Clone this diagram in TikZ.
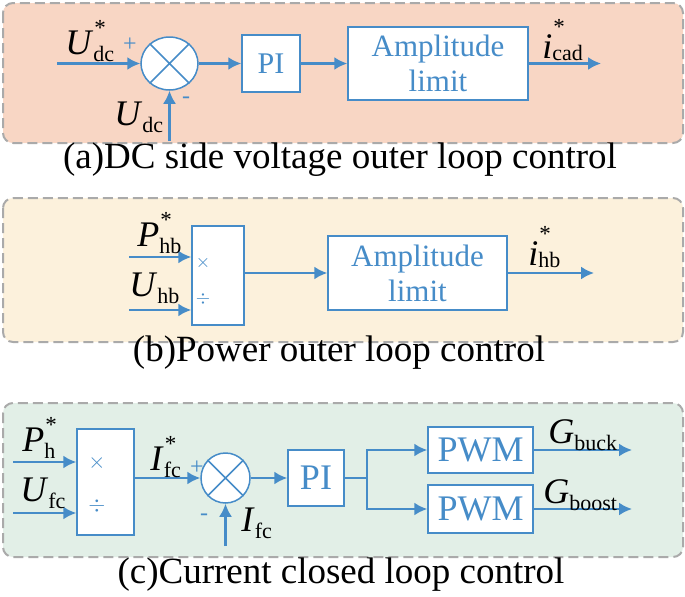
\documentclass[tikz,border=0pt]{standalone}
\usepackage{fontspec}
\setmainfont{Liberation Serif}
\usepackage{xcolor}
\usepackage{tikz}
\usetikzlibrary{positioning,arrows.meta,shapes.geometric,calc}

\definecolor{sigblue}{RGB}{70,140,200}
\definecolor{peachbg}{RGB}{248,214,196}
\definecolor{creambg}{RGB}{252,241,220}
\definecolor{mintbg}{RGB}{226,239,231}
\definecolor{framegray}{RGB}{170,170,170}

% signal labels: italic letter, upright subscript, optional star
\newcommand{\subsz}{\fontsize{11}{11}\selectfont}
\newcommand{\sgnl}[3][3.5pt]{\textit{#2}\raisebox{-#1}{\subsz #3}}
\newcommand{\sgnls}[3][3.5pt]{\textit{#2}\rlap{\raisebox{\dimexpr 12.8pt-#1\relax}{\fontsize{11.5}{11.5}\selectfont\kern0.5pt *}}\raisebox{-#1}{\subsz #3}}

\begin{document}
\begin{tikzpicture}[x=0.5pt, y=-0.5pt,
  blk/.style={draw=sigblue, fill=white, line width=0.75pt, text=sigblue, inner sep=0pt, align=center},
  sum/.style={ellipse, draw=sigblue, fill=white, line width=0.75pt, inner sep=0pt},
  flow/.style={draw=sigblue, line width=1.1pt, -{Latex[length=6.5pt,width=6.5pt]}},
  wire/.style={draw=sigblue, line width=1.1pt},
  panel/.style={draw=framegray, line width=1pt, dash pattern=on 5pt off 2.5pt, rounded corners=5pt},
  sgn/.style={text=sigblue, inner sep=0pt, font=\fontsize{12}{12}\selectfont},
  opsym/.style={text=sigblue, inner sep=0pt, font=\fontsize{9}{9}\selectfont},
  lbl/.style={anchor=base west, inner sep=0pt, font=\fontsize{18}{18}\selectfont},
  captxt/.style={inner sep=0pt, font=\fontsize{18.5}{20}\selectfont}]

\useasboundingbox (0,0) rectangle (685,596);

% (a) DC side voltage outer loop
\draw[panel, fill=peachbg] (3,3) rectangle (683,143);
\node[sum, minimum width=28.5pt, minimum height=26.5pt] (sa) at (169.5,63.5) {};
\draw[sigblue, line width=0.75pt] (sa.45) -- (sa.225) (sa.135) -- (sa.315);
\node[blk, minimum width=29pt, minimum height=28.5pt, font=\fontsize{15}{15}\selectfont] (pia) at (271,63.5) {PI};
\node[blk, minimum width=90pt, minimum height=36.5pt, font=\fontsize{15.5}{17.5}\selectfont] (ampa) at (438,63.5) {Amplitude\\limit};
\coordinate (udcref) at (57,63.5);
\coordinate (udcfb) at (169.5,141);
\coordinate (icad) at (601,63.5);
\draw[flow] (udcref) -- (sa);
\draw[flow] (udcfb) -- (sa);
\draw[flow] (sa) -- (pia);
\draw[flow] (pia) -- (ampa);
\draw[flow] (ampa) -- (icad);
\node[lbl] (ludcref) at (65,54) {\sgnls{U}{dc}};
\node[sgn] (plusa) at (130,45) {+};
\node[lbl] (ludcfb) at (114,125) {\sgnl{U}{dc}};
\node[sgn] (minusa) at (186,100) {-};
\node[lbl] (licad) at (542,58) {\sgnls[1pt]{i}{cad}};
\node[captxt] (capa) at (340,160) {(a)DC side voltage outer loop control};

% (b) Power outer loop
\draw[panel, fill=creambg] (3,198) rectangle (683,342);
\node[blk, minimum width=26pt, minimum height=49.5pt] (mulb) at (218,275.5) {};
\node[opsym] (timesb) at (203,263) {$\times$};
\node[opsym] (divb) at (203,299) {$\div$};
\node[blk, minimum width=89.5pt, minimum height=37pt, font=\fontsize{15.5}{17.5}\selectfont] (ampb) at (417.5,273) {Amplitude\\limit};
\coordinate (phb) at (129,257);
\coordinate (uhb) at (129,310);
\coordinate (ihb) at (594,273);
\draw[flow] (phb) -- (phb -| mulb.west);
\draw[flow] (uhb) -- (uhb -| mulb.west);
\draw[flow] (mulb.east |- ampb) -- (ampb);
\draw[flow] (ampb) -- (ihb);
\node[lbl] (lphb) at (137,246) {\sgnls{P}{hb}};
\node[lbl] (luhb) at (129,296) {\sgnl{U}{hb}};
\node[lbl] (lihb) at (528,265) {\sgnls[1pt]{i}{hb}};
\node[captxt] (capb) at (339,353) {(b)Power outer loop control};

% (c) Current closed loop
\draw[panel, fill=mintbg] (3,403) rectangle (683,557);
\node[blk, minimum width=28.5pt, minimum height=53pt] (mulc) at (105.5,482) {};
\node[opsym, font=\fontsize{11}{11}\selectfont] (timesc) at (97,463) {$\times$};
\node[opsym, font=\fontsize{11}{11}\selectfont] (divc) at (97,506) {$\div$};
\node[sum, minimum width=24.5pt, minimum height=25pt] (sc) at (225.5,478) {};
\draw[sigblue, line width=0.75pt] (sc.45) -- (sc.225) (sc.135) -- (sc.315);
\node[blk, minimum width=28pt, minimum height=28pt, font=\fontsize{18}{18}\selectfont] (pic) at (316,478) {PI};
\node[blk, minimum width=52.5pt, minimum height=23pt, font=\fontsize{18}{18}\selectfont] (pwmbuck) at (480.5,450) {PWM};
\node[blk, minimum width=52.5pt, minimum height=24pt, font=\fontsize{18}{18}\selectfont] (pwmboost) at (480.5,509) {PWM};
\coordinate (ph) at (13,462);
\coordinate (ufc) at (13,513);
\coordinate (ifc) at (225.5,546);
\coordinate (split) at ($(pic.east)+(22,0)$);
\coordinate (gbuck) at (632,450);
\coordinate (gboost) at (632,509);
\draw[flow] (ph) -- (ph -| mulc.west);
\draw[flow] (ufc) -- (ufc -| mulc.west);
\draw[flow] (mulc.east |- sc) -- (sc);
\draw[flow] (ifc) -- (sc);
\draw[flow] (sc) -- (pic);
\draw[wire] (pic) -- (split);
\draw[flow] (split) |- (pwmbuck);
\draw[flow] (split) |- (pwmboost);
\draw[flow] (pwmbuck) -- (gbuck);
\draw[flow] (pwmboost) -- (gboost);
\node[lbl] (lph) at (22,451) {\sgnls{P}{h}};
\node[lbl] (lufc) at (20,501) {\sgnl{U}{fc}};
\node[lbl] (lifcref) at (150,470) {\sgnls{I}{fc}};
\node[sgn] (plusc) at (197,468) {+};
\node[sgn] (minusc) at (204,517) {-};
\node[lbl] (lifc) at (241,531) {\sgnl{I}{fc}};
\node[lbl] (lgbuck) at (548,443) {\sgnl{G}{buck}};
\node[lbl] (lgboost) at (543,503) {\sgnl{G}{boost}};
\node[captxt] (capc) at (341,575) {(c)Current closed loop control};

\end{tikzpicture}
\end{document}
